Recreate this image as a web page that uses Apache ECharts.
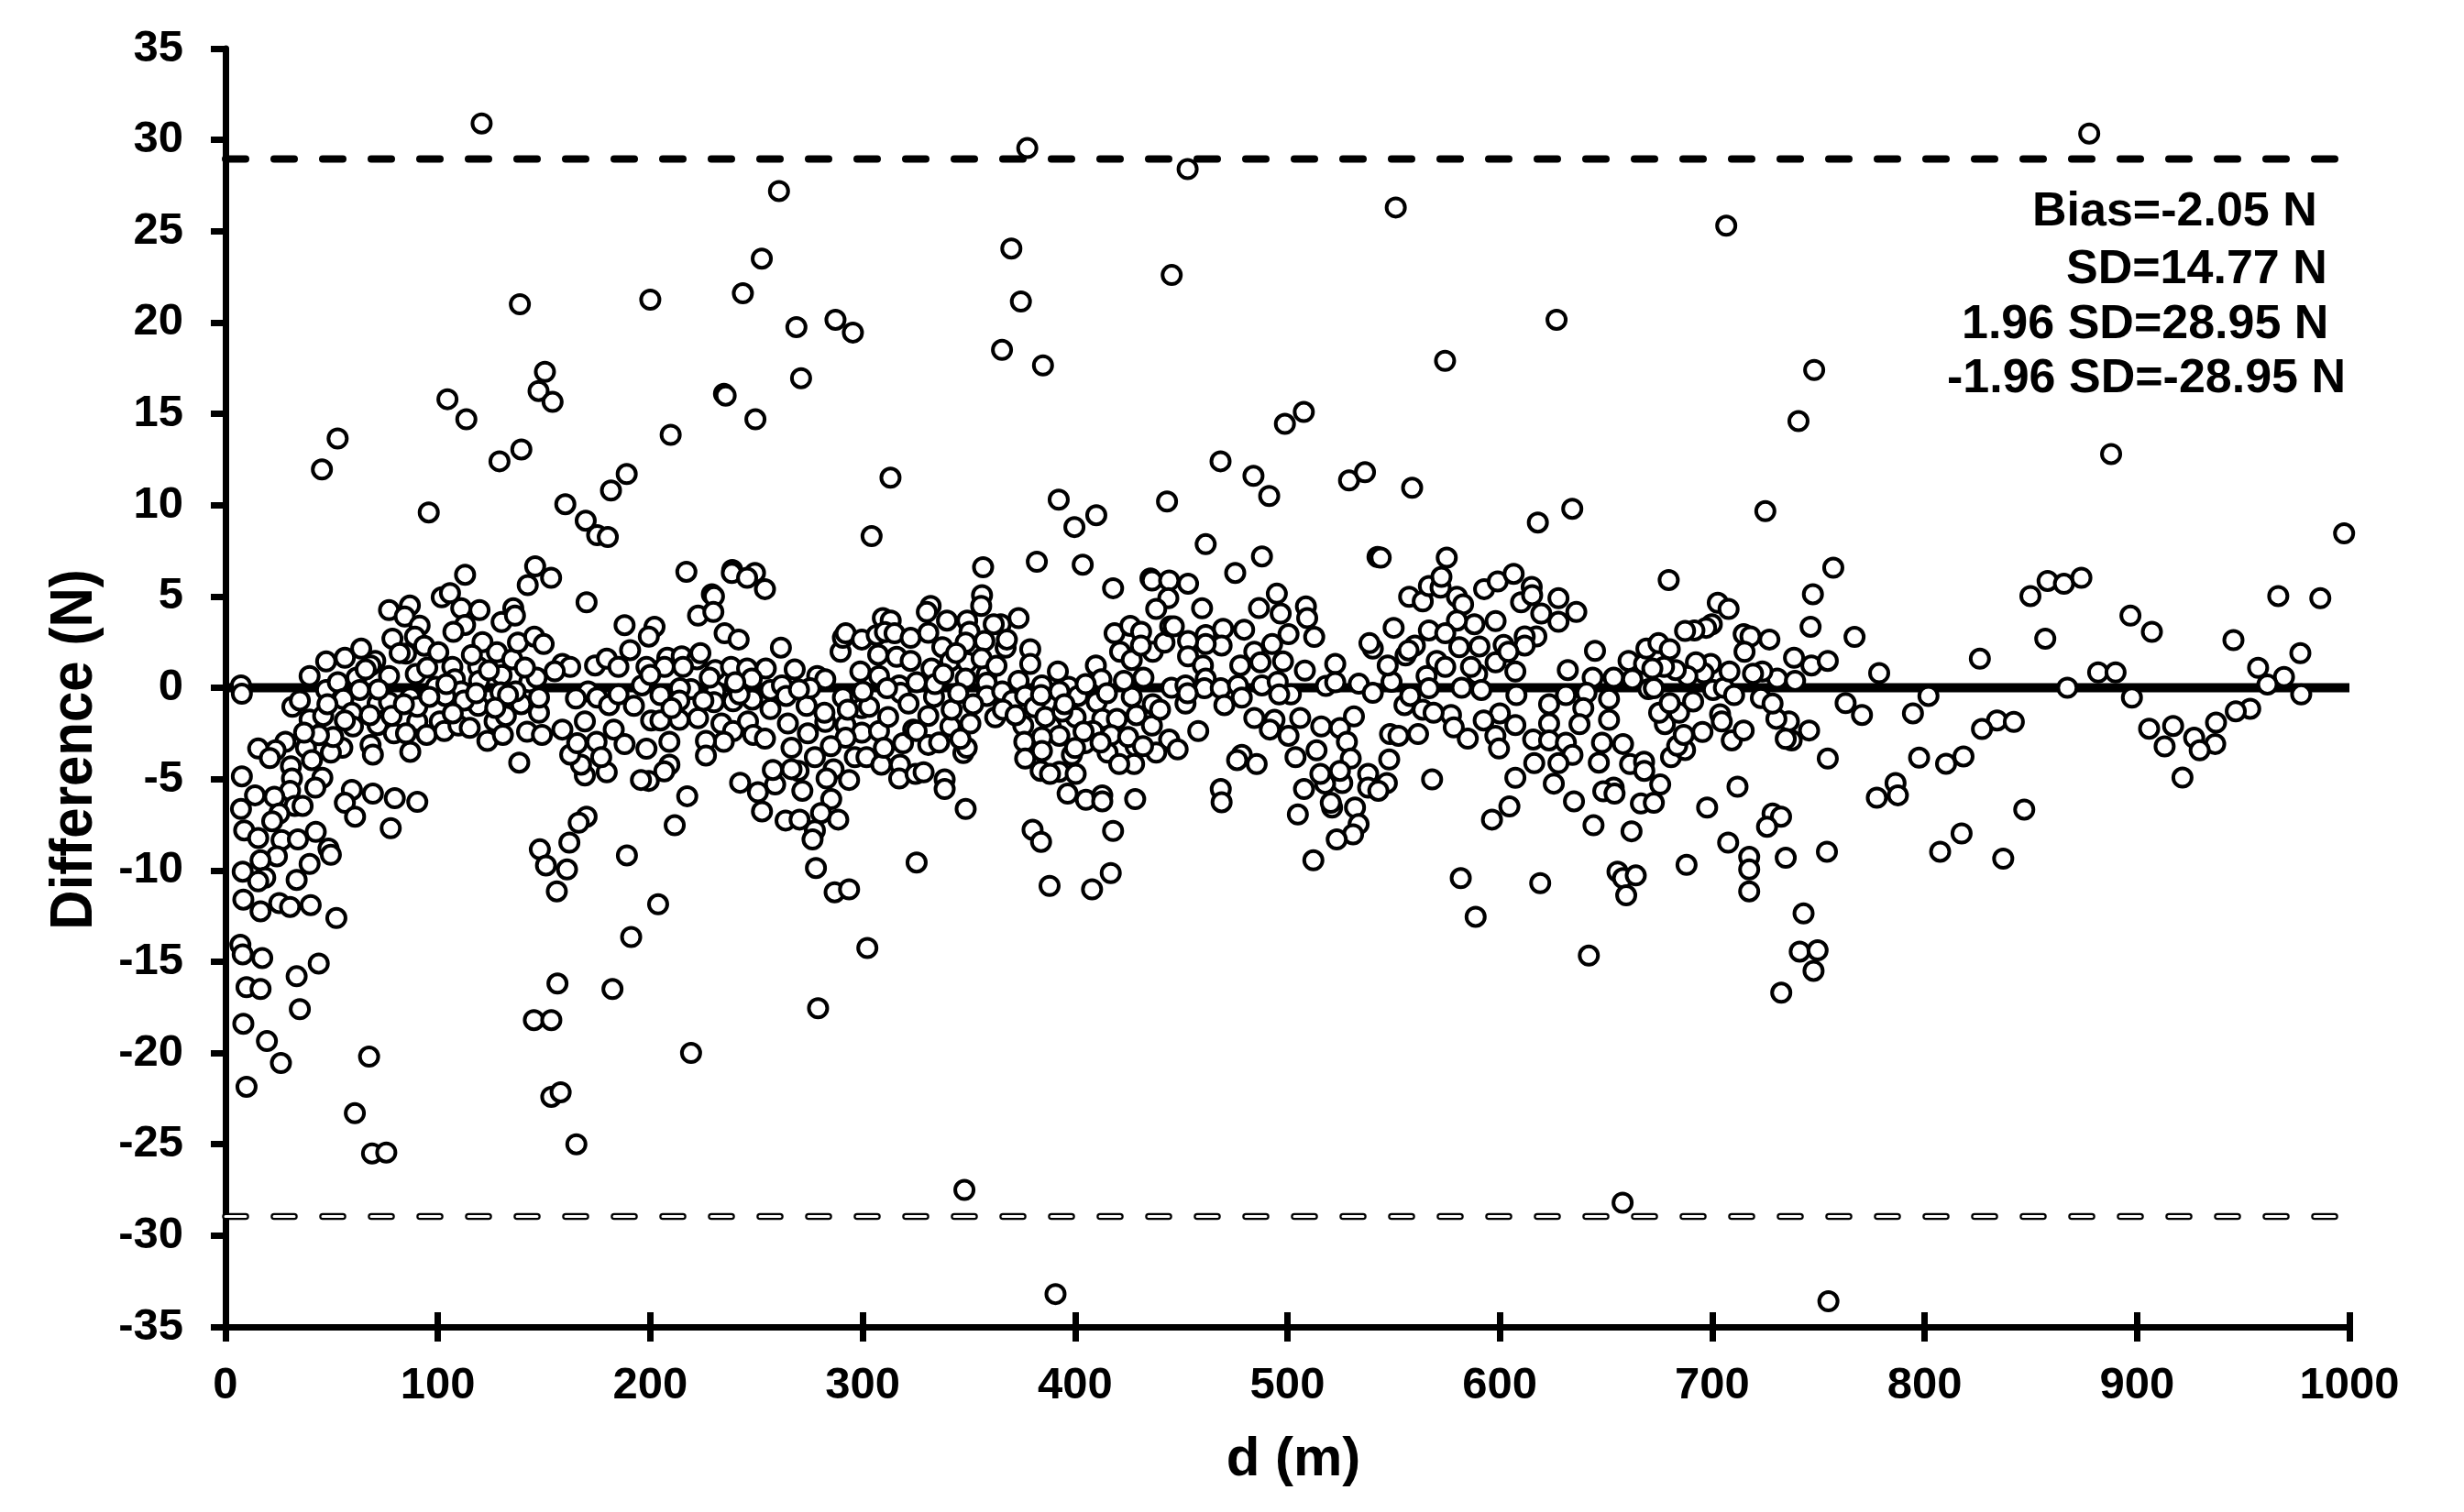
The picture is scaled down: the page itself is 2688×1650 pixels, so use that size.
<!DOCTYPE html>
<html>
<head>
<meta charset="utf-8">
<style>html,body{margin:0;padding:0;background:#fff}#c{width:2688px;height:1650px}</style>
<script src="https://cdn.jsdelivr.net/npm/echarts@6/dist/echarts.min.js"></script>
</head>
<body>
<div id="c"></div>
<script>
const xTicks = [0,100,200,300,400,500,600,700,800,900,1000];
const yTicks = [-35,-30,-25,-20,-15,-10,-5,0,5,10,15,20,25,30,35];
const xTitle = 'd (m)';
const yTitle = 'Difference (N)';
const statLabels = ['Bias=-2.05 N','SD=14.77 N','1.96 SD=28.95 N','-1.96 SD=-28.95 N'];
const biasLevel = 0;
const upperLimit = 28.95;
const lowerLimit = -28.95;

const outliersHigh = [[120.6,30.9],[377.5,29.55],[453,28.4],[877.5,30.35],[260.6,27.2],[551,26.3],[706.6,25.3],[370,24.05],[252.5,23.5],[445.5,22.6],[243.6,21.6],[374.5,21.15],[138.6,21],[200,21.25],[287.2,20.15],[295.4,19.45],[268.8,19.75],[626.7,20.15],[365.6,18.5],[384.9,17.65],[574.2,17.9],[271,16.95],[748,17.4],[150.4,17.3],[147.4,16.25],[154,15.65],[234.7,16.1],[235.5,16.0],[104.5,15.8],[113.4,14.7],[249.5,14.7],[52.8,13.65],[209.6,13.85],[740.6,14.6],[507.7,15.1],[498.8,14.45],[129,12.4],[139.3,13.05],[45.4,11.95],[188.9,11.7],[181.5,10.8],[313.1,11.5],[468.5,12.4],[484,11.6],[491.4,10.5],[529,11.35],[536.5,11.8],[558.7,10.95],[887.8,12.8],[95.7,9.6],[160,10.05],[169.6,9.15],[175,8.35],[180,8.25],[392.3,10.3],[399.7,8.8],[410,9.45],[443.3,10.2],[617.9,9.05],[634.1,9.8],[997.5,8.45],[304.2,8.3]];

const outliersLow = [[9.9,-16.4],[17.3,-14.8],[16.5,-16.5],[33.5,-15.8],[43.9,-15.1],[35,-17.6],[8.4,-18.4],[19.5,-19.35],[26.1,-20.55],[67.6,-20.2],[9.9,-21.85],[60.9,-23.3],[69,-25.5],[75.7,-25.45],[191,-13.65],[182.2,-16.5],[156.3,-16.2],[145.2,-18.2],[153.4,-18.2],[153.4,-22.4],[157.8,-22.15],[165.2,-25],[219.2,-20],[279,-17.55],[347.9,-27.5],[390.8,-33.2],[754.7,-33.6],[657.8,-28.2],[747.7,-15.5],[732.5,-16.7]];

const pointsLeft = [[7.3,0.13],[7.7,-0.33],[112.8,6.19],[145.8,6.65],[142.3,5.62],[153.3,6.02],[217,6.35],[238.6,6.45],[238.4,6.28],[249.3,6.29],[245.6,6.02],[254,5.4],[101.8,4.95],[105.7,5.18],[170,4.68],[229,5.12],[230,5.0],[222.5,3.95],[229.7,4.15],[111,4.35],[119.6,4.25],[77,4.25],[86.8,4.5],[84.4,3.9],[130,3.6],[135.5,4.35],[136.3,3.95],[261.5,2.2],[235,2.98],[241.6,2.64],[187.9,3.43],[202,3.34],[199.3,2.8],[91.4,3.4],[112.8,3.44],[107.3,3.06],[78.6,2.69],[89.2,2.8],[93.6,2.3],[85,1.87],[100.2,1.94],[121,2.5],[127.8,1.94],[135,1.56],[137.7,2.47],[145.4,2.8],[149.8,2.39],[63.9,2.14],[56.2,1.64],[47.4,1.44],[39.6,0.64],[70.5,1.47],[68.3,1.22],[61.7,0.55],[77,0.64],[89.6,0.75],[106.8,1.14],[108,0.47],[99,0.05],[119,1.14],[119.4,0.38],[130,0.69],[47.4,-0.12],[52.9,0.3],[63.2,-0.12],[111,-0.2],[129.5,-0.25],[143,0.3],[146.5,0.55],[158.6,1.3],[162.3,1.14],[174,1.22],[179.5,1.59],[185,1.14],[190.5,2.06],[198.2,1.14],[196,0.13],[208,1.64],[214.8,1.72],[222,1.56],[223.6,1.89],[215.4,1.14],[206.7,1.14],[230.6,0.97],[238,1.14],[245.6,1.05],[254.4,1.05],[247.8,0.5],[204.8,-0.4],[219.2,-0.07],[214,-0.03],[230.6,-0.2],[256.6,-0.12],[262,0.13],[239,-0.74],[248,-0.65],[256.6,-1.17],[170.7,-0.2],[175,-0.54],[165,-0.59],[180.6,-0.95],[192.3,-0.99],[185,-0.37],[213.7,-0.7],[230,-0.79],[278.6,0.64],[282.4,0.47],[290.7,-0.54],[273.6,-0.99],[298.9,-0.45],[298.9,0.89],[289.6,1.97],[290.7,2.73],[292,2.98],[299.6,2.64],[306.6,2.89],[309.5,3.81],[313.2,3.68],[310.5,3.05],[315,2.98],[307.3,1.81],[316,1.69],[322.6,1.47],[322.6,2.73],[307.7,0.64],[317.2,0.13],[317.9,-0.28],[321.6,-0.87],[299.6,-1.12],[291.9,-2.04],[299.6,-2.46],[307.7,-2.37],[319,-3.04],[292,-2.74],[282.4,-1.87],[264.8,-1.96],[274.2,-2.5],[266.5,-3.29],[277.5,-3.8],[286.3,-4.46],[269.8,-4.55],[266.5,-4.46],[283,-4.97],[293.6,-5.05],[296.3,-3.8],[301.8,-3.8],[308.8,-4.21],[317.6,-4.21],[317.2,-4.97],[324.9,-4.72],[310,-3.29],[323.8,-2.29],[258.8,-5.3],[257.7,-4.5],[242.3,-5.2],[250.7,-5.72],[252.6,-6.77],[263.7,-7.27],[270.3,-7.22],[271.6,-5.64],[285.2,-6.1],[280.4,-6.86],[288.5,-7.22],[277.5,-7.81],[276.4,-8.31],[278,-9.87],[286.8,-11.2],[293.6,-11.04],[302.2,-14.25],[233.5,-1.96],[31.5,-1.04],[35,-0.7],[39.6,-1.74],[46,-1.54],[55.5,-0.62],[59.5,-1.37],[60,-2.12],[71.6,-0.87],[77,-0.79],[71.6,-2.04],[79.3,-2.5],[87,-0.54],[90.3,-1.84],[94.7,-2.58],[100.9,-1.84],[103,-2.37],[109.7,-2.07],[119,-0.99],[126.7,-1.84],[123.3,-2.91],[130.6,-2.58],[139.2,-0.9],[147.6,-1.37],[142,-2.41],[149,-2.58],[158.6,-2.29],[169.2,-1.84],[182.8,-2.29],[174.7,-2.96],[187.9,-3.09],[198.2,-3.34],[200.4,-1.79],[204.8,-1.79],[213.7,-1.76],[222.5,-1.67],[239,-2.37],[246,-1.84],[248.5,-2.58],[254,-2.79],[234.6,-2.96],[209,-2.96],[226.2,-2.91],[226.2,-3.71],[209,-4.21],[206.6,-4.58],[199.3,-5.1],[195.6,-5.05],[217.4,-5.94],[211.5,-7.53],[179.5,-4.63],[176.9,-3.8],[169.2,-4.8],[167.4,-4.21],[162.3,-3.66],[165.6,-3.04],[138.3,-4.1],[87,-3.51],[68.3,-3.13],[69.4,-3.66],[51.1,-3.04],[55,-3.29],[49.6,-3.55],[37.9,-3.29],[40.7,-3.96],[45.6,-4.93],[42.3,-5.47],[30.8,-4.3],[31.3,-4.97],[30.4,-5.64],[28.2,-2.96],[23.6,-3.43],[15.4,-3.33],[20.9,-3.85],[7.7,-4.85],[13.9,-5.89],[23,-5.97],[7.3,-6.64],[32.6,-6.47],[36.3,-6.47],[25.3,-6.89],[22,-7.31],[8.8,-7.81],[15.4,-8.23],[26.4,-8.34],[34.1,-8.31],[42.5,-7.89],[48.5,-8.81],[49.6,-9.15],[24.2,-9.23],[16.5,-9.45],[39.6,-9.65],[8.1,-10.07],[18.7,-10.4],[15.4,-10.6],[33.5,-10.52],[8.4,-11.6],[16.5,-12.24],[25.3,-11.79],[30.4,-12],[40.1,-11.9],[52.2,-12.61],[7,-14.08],[8.1,-14.6],[59.5,-5.59],[56.2,-6.3],[61,-7.06],[69.4,-5.8],[79.7,-6.05],[90.3,-6.25],[77.8,-7.69],[170,-7.06],[166.3,-7.39],[161.9,-8.48],[148,-8.85],[150.9,-9.73],[160.8,-9.95],[156,-11.15],[189,-9.18],[203.7,-11.86],[50.7,-2.7],[44,-2.6],[37,-2.46],[56.2,-1.79],[78.2,-1.54],[90.3,-1.04],[103.5,-0.45],[112.3,-0.7],[136.6,-0.2],[147.6,-0.54],[132,-1.54],[133,-0.4],[210,-1.12],[225,-0.7],[242,-0.37],[264,-0.45],[275.3,-0.03],[282,-1.37],[303,-1.04],[311.5,-0.03],[293,-1.2],[66,1],[82,1.9],[95,1.1],[104,0.2],[116,1.8],[124,0.95],[141,1.1],[155,0.9],[72,-0.1],[84,-0.9],[96,-0.5],[118,-0.3],[127,-1.1],[48,-0.9],[68,-1.5],[85,-2.5],[107,-1.4],[115,-2.2],[200,0.7],[228,0.55],[240,0.3],[268,1.0],[270,-0.1],[300,-0.2],[312,-1.6],[285,-3.2]];

const pointsMiddle = [[356.7,6.6],[382,6.9],[403.6,6.74],[461.5,7.86],[488,7.19],[542.4,7.16],[543.9,7.12],[575,7.12],[475.4,6.29],[417.9,5.45],[435.5,5.99],[436.2,5.87],[444.3,5.87],[453.2,5.7],[443.9,4.9],[438.2,4.31],[459.8,4.35],[495,5.15],[486.6,4.36],[496.8,4.06],[508.7,4.45],[509.3,3.81],[512.6,2.78],[500.5,2.93],[492.8,2.39],[484.4,1.97],[487.3,1.39],[497.9,1.44],[477.8,1.22],[479.6,3.18],[469.7,3.23],[461.5,2.89],[469,2.31],[461.5,2.39],[453.2,2.56],[453.2,1.72],[460.2,1.22],[461.5,0.5],[460.9,-0.03],[468.6,-0.03],[476.7,0.13],[488,0.13],[495.4,0.33],[501.6,-0.37],[496.1,-0.37],[478.5,-0.54],[470.3,-0.95],[508.2,0.94],[522.5,1.3],[518.1,0.1],[522.5,0.3],[533.6,0.22],[540.2,-0.28],[549,0.33],[547.2,1.22],[555.6,1.77],[560,2.31],[557,2.05],[550,3.28],[540.2,2.14],[538.6,2.44],[557.3,4.98],[563.7,4.73],[566.6,5.57],[572.1,5.48],[572.5,6.07],[579.8,4.98],[582.7,4.57],[592.6,5.4],[599,5.82],[606.5,6.24],[610,4.68],[615,5.52],[615.2,5.07],[619.5,4.06],[627.6,4.9],[627.6,3.61],[636,4.15],[617.2,2.81],[611.7,2.81],[611.7,2.31],[598,3.65],[588,3.48],[579.8,3.68],[566.6,3.14],[574.3,2.98],[580.9,2.22],[590.4,2.26],[601.8,2.34],[598,1.39],[604,1.97],[607.3,0.89],[589.3,0.75],[570.3,1.47],[574.3,1.14],[586.4,1.14],[565.5,0.64],[566.6,-0.03],[582,0],[591.3,-0.12],[607.8,-0.4],[632,0.97],[643.7,0.55],[644.8,2.02],[653.6,0.55],[660.6,1.47],[662.4,0.47],[667.9,1.3],[669,2.14],[670,-0.08],[640.8,-0.28],[631.1,-0.4],[651.4,-0.62],[623.2,-0.9],[639.3,-1.12],[651.4,-1.76],[623.2,-1.96],[637.5,-2],[607.3,-2.04],[600,-1.4],[592.4,-1.79],[577,-1.49],[578.3,-2.17],[584.9,-2.79],[597.9,-2.63],[599.6,-3.33],[615.7,-2.83],[623.2,-2.88],[631.1,-3.01],[634.2,-3.68],[648.1,-3.01],[658,-3.08],[616.2,-4.13],[627.6,-4.13],[646.6,-4.1],[661.3,-4.18],[667.9,-4.05],[668,-4.55],[607.3,-4.93],[625.4,-5.25],[653.6,-5.47],[648.7,-5.67],[654,-5.8],[666.4,-6.34],[634.9,-6.22],[604.5,-6.5],[596.3,-7.22],[644.1,-7.53],[662,-7.86],[568.1,-5.02],[548.3,-2.54],[552.3,-2.63],[561.5,-2.54],[563.7,-1.2],[568.8,-1.37],[555.1,-0.95],[557.8,-0.45],[531.3,-1.57],[524.7,-2.21],[515.9,-2.12],[506,-1.66],[493.9,-1.76],[484.4,-1.66],[491.7,-2.29],[500.5,-2.63],[528,-2.96],[513.7,-3.43],[503.8,-3.8],[529.8,-3.88],[547.9,-3.93],[538,-4.72],[538,-5.47],[546.8,-5.22],[542.8,-5.64],[525.8,-5.22],[517.7,-5.25],[515.5,-4.72],[524.7,-4.55],[507.8,-5.55],[521,-6.56],[531.8,-6.56],[520.4,-6.3],[504.9,-6.94],[533.5,-7.47],[530.9,-8.03],[523.2,-8.31],[512.2,-9.45],[581.6,-10.43],[619,-10.7],[655.4,-10.07],[658,-10.43],[664,-10.28],[659.5,-11.37],[588.6,-12.54],[641.9,-14.67],[332,4.48],[330.2,4.15],[339.7,3.68],[330.9,3.01],[349.2,3.68],[350.3,3.06],[356.2,5.07],[355.8,4.48],[357.3,2.56],[373.4,3.81],[365,3.48],[361.7,3.48],[367.3,2.19],[367.9,2.64],[378.9,2.11],[378.9,1.3],[337.5,2.22],[348.5,2.47],[341.3,1.47],[349.2,1.39],[332.4,1.05],[348.5,0.5],[358.4,0.72],[358.4,0.27],[358.4,-0.45],[365.7,-0.2],[373.4,0.38],[333.6,-0.5],[325.4,0.3],[370.6,-0.7],[362.4,-1.62],[350.7,-1.96],[341.3,-2.12],[341.9,-1.2],[330.9,-1.54],[325.4,-2.37],[330.9,-3.13],[347.4,-3.58],[349,-3.29],[328.7,-4.63],[338.6,-5.02],[338.6,-5.55],[348.5,-6.64],[325.4,-9.57],[380,-7.78],[384,-8.44],[417.9,-7.84],[416.8,-10.15],[408,-11.04],[388,-10.85],[391.9,0.89],[409.8,1.22],[412.4,0.47],[384.4,0.13],[376.5,-0.45],[397,0.05],[401.4,-0.45],[380.9,-1.07],[392.6,-0.2],[410.2,-0.79],[375.6,-2.07],[388.6,-2.12],[400.3,-1.62],[412.8,-1.71],[419.7,-1.71],[428.9,-1.5],[436.6,-0.9],[426.7,-0.5],[423,0.38],[432.2,0.55],[445.4,0],[452,0.13],[452,-0.87],[436.2,-2.07],[408.4,-2.37],[392.6,-2.63],[384.4,-2.71],[376.1,-2.96],[384.4,-3.46],[376.5,-3.88],[398.5,-3.68],[415.3,-3.55],[428.5,-3.21],[444.3,-2.84],[448.3,-3.38],[458,-2.37],[438.2,-3.55],[427.8,-4.18],[420.8,-4.18],[404.7,-3.04],[383.8,-4.55],[392.6,-4.6],[388.2,-4.72],[400.3,-4.72],[396.5,-5.8],[405.1,-6.14],[412.8,-5.89],[412.8,-6.22],[428.3,-6.1],[468.6,-5.55],[469,-6.27],[478.5,-3.68],[476.3,-3.96],[485.5,-4.18],[418.6,2.98],[426,3.39],[431.1,3.06],[421.2,1.97],[426.7,1.52],[436.6,1.97],[431,2.31],[442.1,2.47],[444.8,3.36],[446.5,3.36],[334,0.2],[345,-0.3],[352,-0.9],[366,-1.2],[338,0.75],[344,1.9],[356,1.6],[363,1.2],[372,-1.5],[386,-1.6],[394,-1.3],[404,-2.4],[417,-2.6],[425,-2.7],[440,-1.2],[415,-0.3],[405,0.2],[453,-0.3],[384,-0.4],[395,-0.9],[400,-3.3],[412,-3],[432,-3.2],[346,-2.8],[336,-3]];

const pointsRight = [[725,9.67],[679.5,5.9],[757,6.57],[747.4,5.12],[746.3,3.34],[767,2.78],[702.6,4.65],[707.7,4.31],[699.8,3.48],[697.1,3.28],[691.6,3.14],[687.2,3.11],[714.8,2.93],[718,2.81],[726.9,2.64],[715.2,1.97],[674.7,2.44],[680,2.11],[738.5,1.64],[746.7,1.22],[754.4,1.47],[778.6,0.8],[801.8,-0.45],[762.8,-0.84],[770.5,-1.49],[794.5,-1.4],[826,1.59],[834.1,-1.79],[842,-1.87],[827,-2.26],[818.3,-3.76],[810.1,-4.16],[797.4,-3.83],[754.4,-3.88],[786.3,-5.22],[787.4,-5.89],[777.5,-6.02],[846.9,-6.67],[817.4,-7.98],[807.3,-8.98],[837,-9.36],[754,-8.98],[734.6,-9.31],[707.5,-8.48],[717.4,-9.26],[717.4,-9.95],[717.4,-11.15],[687.9,-9.7],[697.6,-6.56],[711.9,-5.42],[728.4,-6.89],[732.4,-7.06],[725.8,-7.61],[675.5,-5.3],[672.5,-6.3],[680.6,-3.8],[687.2,-3.41],[683.5,-3.18],[686.6,-2.58],[695.4,-2.42],[709.2,-2.88],[714.8,-2.34],[703.7,-1.45],[704.5,-1.85],[736.1,-1.84],[730.2,-1.7],[745.6,-2.34],[737.4,-2.88],[734.6,-2.8],[743,-12.36],[741.2,-14.45],[749.6,-14.38],[677.7,-1.99],[684.4,-1.37],[675,-1.37],[680,-0.84],[691,-0.75],[700.4,-0.12],[705.5,0],[710.3,-0.4],[722.9,-0.57],[728.4,-0.87],[730.6,0.5],[739,0.38],[723.6,0.89],[719.2,0.77],[708.1,0.89],[699.3,1.3],[696,0.8],[692.3,1.39],[688.3,0.64],[682.8,0.97],[677.3,1.14],[671.8,1.05],[672.5,-0.03],[849.8,5.02],[857.9,5.85],[865.6,5.69],[873.8,6.02],[856.8,2.69],[896.9,3.95],[907,3.06],[945.4,2.61],[966.5,5.02],[986.3,4.9],[976.9,1.89],[957,1.09],[969.2,0.59],[961.4,0.18],[977.3,-0.37],[881.7,0.84],[889.9,0.84],[867.2,0],[897.6,-0.54],[953.3,-1.15],[946.5,-1.29],[937.2,-1.91],[917,-2.09],[905.7,-2.24],[926.9,-2.74],[936.8,-3.08],[929.5,-3.43],[913,-3.21],[921.4,-4.92]];

const allPoints = [].concat(outliersHigh, outliersLow, pointsLeft, pointsMiddle, pointsRight);

const FONT = '"Liberation Sans", Arial, sans-serif';
const chart = echarts.init(document.getElementById('c'), null, {renderer:'canvas', width:2688, height:1650});

function limitLine(level, color, width){
  return {type:'line', xAxisIndex:0, yAxisIndex:0, silent:true, symbol:'none', clip:false, animation:false,
    data:[[xTicks[0],level],[xTicks[xTicks.length-1],level]],
    lineStyle:{color:color, width:width, type:[22,31], dashOffset:0, cap:'round'}};
}

const statY = [232,295,355,414];
const statX = [2217,2254,2140,2124];

chart.setOption({
  animation:false,
  backgroundColor:'#fff',
  grid:{left:246, right:2688-2563, top:53, bottom:1650-1448, containLabel:false},
  xAxis:[{
    type:'value', min:0, max:1000, interval:100, position:'bottom',
    axisLine:{show:true, onZero:false, lineStyle:{color:'#000', width:7}},
    axisTick:{show:true, length:16, lineStyle:{color:'#000', width:7}},
    axisLabel:{show:true, margin:40, formatter:v=>String(v), fontFamily:FONT, fontWeight:'bold', fontSize:49, color:'#000', showMinLabel:true, showMaxLabel:true},
    splitLine:{show:false}
  },{
    type:'value', min:0, max:1000, interval:100, position:'bottom',
    axisLine:{show:false, onZero:false},
    axisTick:{show:true, inside:true, length:16, lineStyle:{color:'#000', width:7}},
    axisLabel:{show:false}, splitLine:{show:false}
  }],
  yAxis:{
    type:'value', min:-35, max:35, interval:5, position:'left',
    axisLine:{show:true, onZero:false, lineStyle:{color:'#000', width:7}},
    axisTick:{show:true, length:16, lineStyle:{color:'#000', width:7}},
    axisLabel:{show:true, margin:46, fontFamily:FONT, fontWeight:'bold', fontSize:49, color:'#000', showMinLabel:true, showMaxLabel:true},
    splitLine:{show:false}
  },
  series:[
    {type:'line', xAxisIndex:0, yAxisIndex:0, silent:true, symbol:'none', clip:false,
      data:[[xTicks[0],biasLevel],[xTicks[xTicks.length-1],biasLevel]],
      lineStyle:{color:'#000', width:10, type:'solid', cap:'butt'}, z:2},
    Object.assign(limitLine(upperLimit,'#000',8),{z:2}),
    Object.assign(limitLine(lowerLimit,'#000',7.5),{z:2}),
    Object.assign(limitLine(lowerLimit,'#fff',3),{z:3}),
    {type:'scatter', xAxisIndex:0, yAxisIndex:0, data:allPoints, symbol:'circle', symbolSize:20, clip:false,
      large:false, progressive:0,
      itemStyle:{color:'#fff', borderColor:'#000', borderWidth:4, opacity:1}, z:5, silent:true}
  ],
  graphic:[
    {type:'text', z:10, rotation:Math.PI/2, scaleY:1.09, x:82, y:818, style:{text:yTitle, font:'bold 60px '+FONT, fill:'#000', textAlign:'center', textVerticalAlign:'middle'}},
    {type:'text', z:10, x:1411, y:1593, style:{text:xTitle, font:'bold 60px '+FONT, fill:'#000', textAlign:'center', textVerticalAlign:'middle'}}
  ].concat(statLabels.map((t,i)=>({type:'text', z:10, x:statX[i], y:statY[i], style:{text:t, font:'bold 52px '+FONT, fill:'#000', textAlign:'left', textVerticalAlign:'middle'}})))
});
</script>
</body>
</html>
